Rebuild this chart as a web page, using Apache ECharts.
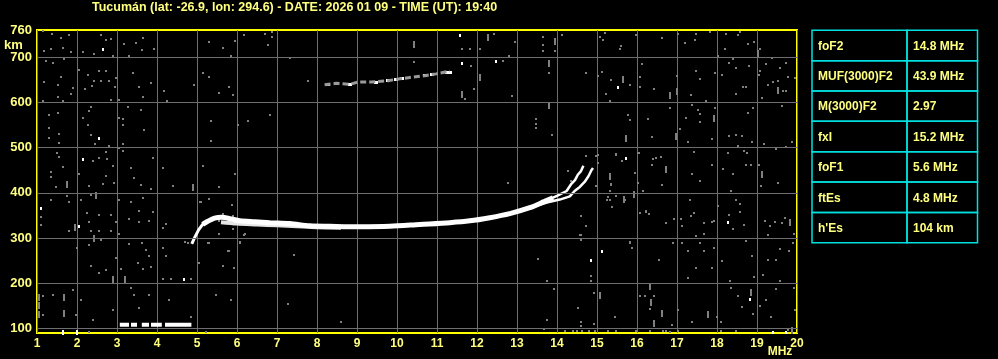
<!DOCTYPE html>
<html><head><meta charset="utf-8">
<script src="https://cdn.jsdelivr.net/npm/echarts@6/dist/echarts.min.js"></script>
<style>html,body{margin:0;padding:0;background:#000;}#c{width:998px;height:359px;}</style>
</head><body><div id="c"></div>
<script>
// ---------- DATA ----------
const titleText = 'Tucumán (lat: -26.9, lon: 294.6) - DATE: 2026 01 09 - TIME (UT): 19:40';
const xMin = 1, xMax = 20;
const yMin = 90, yMax = 760;
const yTickLabels = [100, 200, 300, 400, 500, 600, 700, 760];
const yGridLines = [100, 200, 300, 400, 500, 600, 700];

const tableNames = ['foF2', 'MUF(3000)F2', 'M(3000)F2', 'fxI', 'foF1', 'ftEs', "h'Es"];
const tableValues = ['14.8 MHz', '43.9 MHz', '2.97', '15.2 MHz', '5.6 MHz', '4.8 MHz', '104 km'];

// F-layer trace (MHz, km)
const traceStartF = [4.87, 4.94, 5.04, 5.14, 5.27];
const traceStartH = [287, 301, 318, 330, 336];
const traceMainF = [5.14, 5.27, 5.44, 5.62, 5.82, 6.07, 6.45, 6.82, 7.32, 7.82, 8.32, 9.07, 9.82, 10.57, 11.32, 11.82, 12.32, 12.82, 13.32, 13.69, 13.9];
const traceMainH = [330, 337, 344, 346, 343, 338, 336, 334, 332, 327, 326, 325, 326, 330, 334, 338, 345, 354, 367, 381, 389];
const traceLowF = [5.6, 6.0, 6.5, 7.0, 7.5, 8.0, 8.6];
const traceLowH = [335, 332, 330, 328, 326, 324, 323];
const branchUpF = [13.69, 14.0, 14.24, 14.36, 14.45, 14.52, 14.6, 14.66];
const branchUpH = [381, 393, 404, 420, 428, 440, 448, 460];
const branchLowF = [13.5, 13.77, 14.07, 14.32, 14.44, 14.57, 14.69, 14.79, 14.86, 14.9];
const branchLowH = [372, 379, 385, 392, 404, 413, 424, 437, 450, 455];

// second-hop echo
const hop2F = [8.19, 8.48, 8.82, 9.03, 9.37, 9.78, 10.07, 10.32, 10.69, 10.98, 11.32];
const hop2H = [639, 642, 640, 645, 645, 648, 652, 655, 659, 663, 669];
const hop2White = [[8.27,639],[8.82,640],[9.48,645],[9.78,648],[9.98,650],[10.12,652],[10.69,659],[10.88,661],[11.25,667],[11.32,667]];

// sporadic E trace segments
const esStart = [3.07, 3.35, 3.62, 3.85, 4.2];
const esEnd   = [3.3, 3.5, 3.8, 4.12, 4.86];
const esH = 108;

// noise (gray dots)
const noiseGray = [
[1.14,757],[1.38,751],[1.6,743],[1.79,749],[2.6,749],[2.72,737],[2.85,739],[3.18,730],[3.48,732],[3.64,743],[3.63,715],[3.93,717],[1.18,713],[1.35,719],[1.64,721],[1.85,712],[2.14,712],[2.43,706],[2.89,702],[3.31,702],[5.29,734],[5.64,721],[5.85,702],[5.96,736],
[1.23,691],[1.39,687],[1.68,695],[2.06,672],[2.27,661],[2.54,670],[2.73,670],[2.98,654],[3.39,665],[3.85,643],[4.18,626],[4.93,638],[5.14,665],[5.31,655],[5.54,620],[5.79,633],[5.89,617],[1.18,646],[1.52,639],[1.6,655],[1.89,632],[1.85,618],[1.52,612],[1.14,603],[1.64,603],[2.21,630],[2.37,637],[2.43,648],[2.6,648],[2.79,648],[2.95,633],[2.85,606],[3.04,606],[3.54,633],[3.64,611],[4.24,603],
[1.29,572],[1.52,576],[1.31,544],[1.54,531],[1.29,522],[1.54,511],[2.14,566],[2.31,581],[2.35,590],[2.27,550],[2.35,527],[2.46,509],[2.81,504],[3.04,566],[3.16,563],[3.27,589],[3.16,550],[3.6,583],[3.68,539],[3.14,509],[5.35,559],[5.35,514],
[1.49,487],[1.56,480],[1.35,447],[1.35,435],[1.64,457],[2.39,470],[2.56,477],[2.72,490],[2.76,475],[2.89,460],[2.73,438],[2.29,414],[2.64,420],[2.93,421],[3.04,499],[3.14,492],[3.35,455],[3.43,432],[3.6,417],[3.85,409],[3.89,477],[4.14,455],[4.39,416],[5.14,460],[5.54,413],[5.96,442],[2.06,442],[1.48,412],
[1.35,383],[1.75,394],[1.81,380],[2.35,395],[2.1,383],[3.06,383],[3.35,379],[3.64,388],[3.89,358],[3.54,360],[2.24,355],[2.31,335],[2.56,350],[2.85,352],[2.98,335],[1.79,316],[2.35,316],[2.56,316],[2.85,316],[3.04,308],[1.1,347],[1.1,328],[3.31,342],[3.56,335],[3.81,338],[4.14,323],[4.23,331],[5.1,379],[5.31,386],[5.54,338],[5.89,319],[5.64,353],
[2.6,296],[2.31,284],[1.99,278],[2.98,256],[3.31,286],[3.63,290],[3.73,273],[3.81,260],[4.14,278],[4.23,261],[4.77,290],[5.29,290],[5.79,271],[5.06,245],[5.64,239],[5.93,234],[2.56,223],[2.73,230],[2.35,239],[3.1,231],[3.52,245],[3.64,231],[3.85,236],[4.14,209],[4.35,209],[4.85,209],
[1.14,171],[1.39,174],[1.98,130],[1.89,185],[2.1,163],[2.39,118],[2.89,140],[3.35,190],[3.43,173],[3.54,145],[3.79,174],[4.29,162],[4.85,126],[5.48,173],[5.84,162],[1.14,130],[2.31,92],[5.23,92],
[5.07,379],[5.88,374],[5.55,309],[5.78,272],[6.19,309],[6.07,290],[5.28,290],[4.69,292],
[6.17,749],[6.69,752],[6.88,756],[6.88,745],[6.78,727],[7.33,698],[7.78,648],[10.42,689],[11.63,717],[11.83,719],[12.08,717],[12.42,752],[12.94,734],[12.65,691],[12.8,702],[11.85,680],[11.92,630],[11.69,607],[12.88,615],[13.65,745],[13.65,726],[13.65,713],[13.95,713],[14.13,749],[13.8,665],[14.72,665],[13.47,563],[13.47,553],[13.47,544],[13.88,527],[6.82,573],[6.28,558],[6.03,549],
[6.18,307],[6.08,292],[7.43,263],[7.28,154],[8.59,115],[13.53,254],[13.74,206],[13.93,187],[14.84,215],[14.84,206],[14.59,307],[14.59,296],[14.53,146],[14.59,115],[14.59,106],[13.74,118],[14.93,179],[14.93,110],[13.67,99],
[14.73,481],[14.98,481],[15.03,467],[15.48,485],[16.03,489],[15.32,440],[15.36,418],[15.94,444],[16.15,404],[15.69,385],[12.78,422],[14.28,448],[14.36,426],[14.98,415],[14.59,348],[14.72,326],[14.57,307],[15.26,385],[16.23,359],[15.82,292],
[15.19,754],[15.07,745],[15.15,737],[15.61,725],[15.57,717],[15.98,749],[16.63,743],[17.03,752],[17.48,752],[17.44,737],[17.19,732],[17.82,756],[18.23,752],[18.57,756],[18.52,749],[18.77,730],[18.93,734],[19.07,717],[18.19,717],[18.02,702],
[15.03,658],[15.13,667],[15.36,650],[15.23,618],[15.33,603],[15.82,639],[16.13,685],[16.07,655],[16.07,635],[16.42,629],[17.01,658],[17.36,617],[17.48,669],[17.58,652],[17.73,603],[17.94,665],[18.13,661],[18.3,687],[18.4,695],[18.48,675],[18.65,633],[18.73,633],[18.47,618],[18.8,680],[19.08,669],[19.23,685],[19.38,698],[19.58,676],[19.73,687],[19.78,655],[19.94,653],[19.4,645],[19.53,648],[19.28,639],[19.65,626],[19.73,626],[19.13,609],[19.05,660],
[15.78,571],[15.83,561],[16.28,563],[16.38,524],[16.83,587],[17.08,542],[17.22,566],[17.38,594],[17.52,583],[17.57,574],[17.58,556],[17.28,513],[17.87,519],[17.95,587],[18.3,526],[18.47,527],[18.62,526],[18.53,504],[18.88,513],[18.78,576],[18.9,587],[19.17,509],[19.63,591],[19.88,513],
[15.03,483],[15.48,484],[15.63,470],[15.36,420],[16.05,489],[16.4,475],[16.48,477],[16.6,479],[16.38,461],[16.03,422],[16.63,417],[17.42,490],[17.88,461],[18.15,453],[18.27,487],[18.4,442],[18.68,492],[18.75,488],[18.73,462],[18.85,462],[19.05,462],[19.48,496],[19.53,422],[19.72,501],[19.1,416],[17.38,442],[17.58,427],[15.32,405],
[15.28,390],[15.32,383],[15.48,394],[15.38,368],[16.07,355],[16.23,358],[16.3,353],[16.73,333],[16.93,342],[17.1,342],[17.13,327],[17.32,383],[17.36,349],[17.42,355],[17.68,334],[17.87,336],[17.68,310],[17.48,304],[17.93,338],[18.02,371],[18.3,351],[18.35,403],[18.48,385],[18.57,375],[18.58,357],[18.67,328],[18.4,320],[19.2,338],[19.28,306],[19.45,336],[19.63,333],[19.69,345],[19.92,310],[19.32,327],
[15.82,290],[15.88,278],[16.9,288],[17.12,290],[17.27,271],[17.27,211],[17.48,234],[17.58,288],[17.67,271],[17.88,234],[17.93,278],[18.13,249],[18.33,204],[18.72,293],[18.88,261],[18.93,214],[19.15,219],[19.27,252],[19.48,252],[19.58,275],[19.8,271],[19.9,290],[19.57,206],[16.55,252],
[15.44,125],[16.08,172],[16.2,172],[16.43,171],[16.88,107],[17.03,140],[17.38,115],[18.0,125],[18.1,115],[18.35,190],[18.52,171],[18.63,147],[18.9,133],[19.08,150],[19.23,164],[19.48,187],[19.92,189],[19.96,140],[19.35,126],[16.32,142],
[15.28,94],[15.48,95],[15.98,95],[16.32,94],[16.65,95],[16.73,94],[16.82,93],[17.03,95],[18.1,94],[18.47,95],[19.78,96],[14.2,95],[14.4,95],[14.5,95],[14.62,95],[14.8,95],[14.95,95]
];
// noise (gray vertical streaks)
const noiseStreak = [
[2.43,300],[1.94,324],[1.74,418],[2.48,395],[4.89,412],[1.04,168],[1.04,150],[1.04,132],[1.68,168],[1.68,133],[2.91,209],[3.21,209],[5.9,343],
[10.42,728],[11.63,618],[12.27,743],[13.8,687],[13.8,593],[12.08,654],[13.95,735],
[15.65,650],[15.73,520],[15.32,435],[15.67,385],[15.92,397],[16.82,615],[17.01,625],[16.97,525],[17.93,565],[19.03,708],[19.53,626],[19.83,335],[16.32,192],[16.62,133],[16.43,110],[18.85,180],[17.78,130],[15.08,172],[16.72,452],[19.13,440],[16.35,158],[19.87,96]
];
// noise (white dots)
const noiseWhite = [
[2.64,717],[2.54,520],[2.14,474],[1.1,365],[2.04,325],[4.68,209],
[11.57,747],[12.48,691],[11.63,685],[14.84,250],
[15.53,633],[15.73,476],[18.27,334],[15.13,271],[18.83,164],[19.4,92],[19.73,92]
];
const whiteStreak = [[1.64,92],[2.0,91]];

// ---------- BUILD ----------
const pair = (xs, ys) => xs.map((x, i) => [x, ys[i]]);
const esData = [];
esStart.forEach((s, i) => { esData.push([s, esH], [esEnd[i], esH], [esEnd[i], '-']); });

const lblColor = '#ffff80';
const font = '"Liberation Sans", Arial, sans-serif';

// crisp pixel-block renderer for noise dots (position from the axes' scales)
function pixelSeries(data, w, h, color) {
  return {
    type: 'custom', data: data, silent: true,
    renderItem: function (params, api) {
      const p = api.coord([api.value(0), api.value(1)]);
      return {type: 'rect', shape: {x: Math.round(p[0] - w / 2), y: Math.round(p[1] - h / 2), width: w, height: h}, style: {fill: color}};
    }
  };
}

const graphics = [];
const tX = 812, tColW1 = 95, tColW2 = 70.5, tTop = 30.3, tRowH = 30.35;
tableNames.forEach((n, i) => {
  const y = tTop + i * tRowH;
  graphics.push({type:'rect', shape:{x:tX, y:y, width:tColW1, height:tRowH}, style:{fill:'none', stroke:'#00e0e0', lineWidth:1.5}});
  graphics.push({type:'rect', shape:{x:tX+tColW1, y:y, width:tColW2, height:tRowH}, style:{fill:'none', stroke:'#00e0e0', lineWidth:1.5}});
  graphics.push({type:'text', x:tX+6, y:y+tRowH/2+1, style:{text:n, fill:lblColor, font:'bold 12px '+font, textVerticalAlign:'middle'}});
  graphics.push({type:'text', x:tX+tColW1+6, y:y+tRowH/2+1, style:{text:tableValues[i], fill:lblColor, font:'bold 12px '+font, textVerticalAlign:'middle'}});
});
graphics.push({type:'text', x:13.5, y:45, style:{text:'km', fill:lblColor, font:'bold 13px '+font, textAlign:'center', textVerticalAlign:'middle'}});
graphics.push({type:'text', x:780, y:351.5, style:{text:'MHz', fill:lblColor, font:'bold 12px '+font, textAlign:'center', textVerticalAlign:'middle'}});

const chart = echarts.init(document.getElementById('c'), null, {renderer:'canvas'});
chart.setOption({
  animation: false,
  backgroundColor: '#000',
  title: {text: titleText, left: 92, top: 1, padding: 0, textStyle: {color: lblColor, fontSize: 12.5, fontWeight: 'bold', fontFamily: 'Liberation Sans'}},
  grid: {left: 37, right: 201, top: 30, bottom: 26, show: true, borderColor: '#ffff00', borderWidth: 2, backgroundColor: '#000'},
  xAxis: {
    type: 'value', min: xMin, max: xMax, interval: 1,
    axisLine: {show: false}, axisTick: {show: false},
    axisLabel: {color: lblColor, fontSize: 12, fontWeight: 'bold', fontFamily: 'Liberation Sans', margin: 5},
    splitLine: {show: true, lineStyle: {color: '#6e6e6e', width: 1}}
  },
  yAxis: {
    type: 'value', min: yMin, max: yMax,
    axisLine: {show: false}, axisTick: {show: false},
    axisLabel: {customValues: yTickLabels, color: lblColor, fontSize: 13, fontWeight: 'bold', fontFamily: 'Liberation Sans', margin: 5},
    splitLine: {show: false}
  },
  graphic: graphics,
  series: [
    {type:'line', data:[], silent:true, markLine:{silent:true, symbol:['none','none'], label:{show:false},
      lineStyle:{color:'#6e6e6e', width:1, type:'solid'}, data: yGridLines.map(v => ({yAxis: v}))}},
    pixelSeries(noiseGray, 2, 2, '#808080'),
    pixelSeries(noiseStreak, 2, 7, '#808080'),
    {type:'line', data: pair(hop2F, hop2H), showSymbol:false, lineStyle:{color:'#9a9a9a', width:3, type:[6,3]}, silent:true},
    pixelSeries(hop2White, 4, 3, '#ffffff'),
    pixelSeries(noiseWhite, 2, 3, '#ffffff'),
    pixelSeries(whiteStreak, 2, 5, '#ffffff'),
    {type:'line', data: esData, showSymbol:false, connectNulls:false, lineStyle:{color:'#fff', width:4}, silent:true},
    {type:'line', data: pair(traceLowF, traceLowH), showSymbol:false, smooth:0.3, lineStyle:{color:'#e6e6e6', width:4}, silent:true},
    {type:'line', data: pair(traceStartF, traceStartH), showSymbol:false, lineStyle:{color:'#fff', width:3}, silent:true},
    {type:'line', data: pair(traceMainF, traceMainH), showSymbol:false, smooth:0.3, lineStyle:{color:'#fff', width:5}, silent:true},
    {type:'line', data: pair(branchUpF, branchUpH), showSymbol:false, lineStyle:{color:'#fff', width:2.5}, silent:true},
    {type:'line', data: pair(branchLowF, branchLowH), showSymbol:false, lineStyle:{color:'#fff', width:2.5}, silent:true}
  ]
});
</script></body></html>
